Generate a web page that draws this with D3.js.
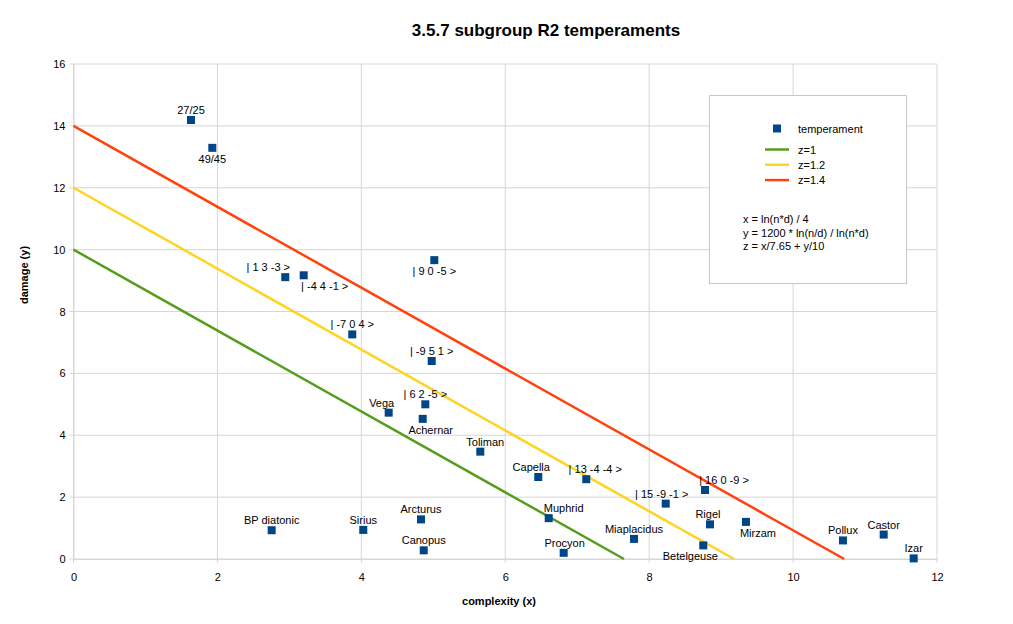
<!DOCTYPE html>
<html><head><meta charset="utf-8">
<script src="https://cdn.jsdelivr.net/npm/d3@7"></script>
<style>body{margin:0;background:#fff;} text{font-family:"Liberation Sans",Arial,sans-serif;}</style>
</head><body>
<svg id="c" width="1013" height="624"></svg>
<script>
const names = ["27/25","49/45","| 1 3 -3 >","| -4 4 -1 >","| 9 0 -5 >","| -7 0 4 >","| -9 5 1 >","| 6 2 -5 >","Vega","Achernar","Toliman","Capella","| 13 -4 -4 >","BP diatonic","Sirius","Arcturus","Canopus","Muphrid","Procyon","| 15 -9 -1 >","| 16 0 -9 >","Rigel","Mirzam","Miaplacidus","Betelgeuse","Pollux","Castor","Izar"];
const complexity = [1.633,1.929,2.943,3.199,5.014,3.874,4.978,4.889,4.380,4.853,5.653,6.459,7.126,2.754,4.027,4.829,4.867,6.604,6.812,8.230,8.776,8.845,9.345,7.789,8.752,10.693,11.259,11.676];
const damage = [14.19,13.29,9.11,9.17,9.66,7.26,6.40,5.00,4.73,4.53,3.47,2.65,2.58,0.93,0.94,1.28,0.28,1.32,0.20,1.79,2.23,1.12,1.20,0.65,0.44,0.60,0.79,0.02];
// label placement (style): side a=above b=below, horizontal shift in px
const labelSide = ["a","b","a","b","b","a","a","a","a","b","a","a","a","a","a","a","a","a","a","a","a","a","b","a","b","a","a","a"];
const labelShift = [0,0,-17,21,0,0,0,0,-7,8,5,-7,9,0,0,0,0,15,1,-4,19,-2,12,0,-13,0,0,0];
const lineNames = ["z=1","z=1.2","z=1.4"];
const lineStart = [[0,10],[0,12],[0,14]];
const lineEnd = [[7.65,0],[9.18,0],[10.71,0]];
const lineColors = ["#579d1c","#ffd320","#ff420e"];
const xTicks = [0,2,4,6,8,10,12];
const yTicks = [0,2,4,6,8,10,12,14,16];
const formulas = ["x = ln(n*d) / 4","y = 1200 * ln(n/d) / ln(n*d)","z = x/7.65 + y/10"];

const svg = d3.select("#c");
const L=73.5,R=937,T=64,B=559;
const x = d3.scaleLinear().domain([0,12]).range([L,R]);
const y = d3.scaleLinear().domain([0,16]).range([B,T]);
const grid="#d6d6d6";

svg.append("text").attr("x",546).attr("y",36).attr("text-anchor","middle")
  .attr("font-size",17).attr("font-weight","bold").text("3.5.7 subgroup R2 temperaments");

const g = svg.append("g");
g.selectAll(".gx").data(xTicks).join("line").attr("x1",d=>x(d)).attr("x2",d=>x(d))
  .attr("y1",T).attr("y2",B+4).attr("stroke",grid).attr("stroke-width",1);
g.selectAll(".gy").data(yTicks).join("line").attr("y1",d=>y(d)).attr("y2",d=>y(d))
  .attr("x1",L-4).attr("x2",R).attr("stroke",grid).attr("stroke-width",1);

const xa = svg.append("g").attr("transform",`translate(0,${B})`)
  .call(d3.axisBottom(x).tickValues(xTicks).tickSize(0).tickPadding(14).tickFormat(d3.format("d")));
const ya = svg.append("g").attr("transform",`translate(${L},0)`)
  .call(d3.axisLeft(y).tickValues(yTicks).tickSize(0).tickPadding(8).tickFormat(d3.format("d")));
[xa,ya].forEach(a=>{a.select(".domain").attr("stroke",grid);
  a.selectAll("text").attr("font-size",11).attr("fill","#000").attr("font-family","Liberation Sans, Arial, sans-serif");});

svg.append("text").attr("x",499).attr("y",605).attr("text-anchor","middle")
  .attr("font-size",11).attr("font-weight","bold").text("complexity (x)");
svg.append("text").attr("transform","translate(28,275) rotate(-90)").attr("text-anchor","middle")
  .attr("font-size",11).attr("font-weight","bold").text("damage (y)");

svg.selectAll(".zl").data(lineNames).join("line")
  .attr("x1",(d,i)=>x(lineStart[i][0])).attr("y1",(d,i)=>y(lineStart[i][1]))
  .attr("x2",(d,i)=>x(lineEnd[i][0])).attr("y2",(d,i)=>y(lineEnd[i][1]))
  .attr("stroke",(d,i)=>lineColors[i]).attr("stroke-width",2.5);

const pts = names.map((n,i)=>({n,x:complexity[i],y:damage[i],s:labelSide[i],dx:labelShift[i]}));
svg.selectAll(".pt").data(pts).join("rect")
  .attr("x",d=>x(d.x)-4).attr("y",d=>y(d.y)-4).attr("width",8).attr("height",8).attr("fill","#004586");
svg.selectAll(".lb").data(pts).join("text")
  .attr("x",d=>x(d.x)+d.dx).attr("y",d=>y(d.y)+(d.s==="a"?-6:15))
  .attr("text-anchor","middle").attr("font-size",11).attr("fill","#000").text(d=>d.n);

// legend
const lg = svg.append("g");
lg.append("rect").attr("x",709.5).attr("y",95.5).attr("width",197).attr("height",188)
  .attr("fill","#fff").attr("stroke","#c8c8c8");
lg.append("rect").attr("x",773).attr("y",124.5).attr("width",8).attr("height",8).attr("fill","#004586");
lg.append("text").attr("x",798).attr("y",132.5).attr("font-size",11).text("temperament");
lineNames.forEach((n,i)=>{
  const yy = 149.5+i*15.3;
  lg.append("line").attr("x1",765).attr("x2",789).attr("y1",yy).attr("y2",yy)
    .attr("stroke",lineColors[i]).attr("stroke-width",2.5);
  lg.append("text").attr("x",798).attr("y",yy+4).attr("font-size",11).text(n);
});
formulas.forEach((f,i)=>{
  lg.append("text").attr("x",743).attr("y",223+i*13.5).attr("font-size",11).text(f);
});
</script>
</body></html>
